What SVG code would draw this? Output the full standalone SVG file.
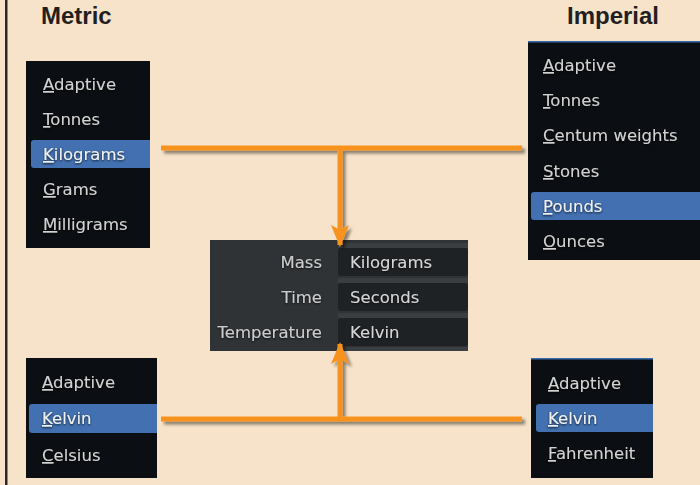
<svg xmlns="http://www.w3.org/2000/svg" width="700" height="485" viewBox="0 0 700 485">
  <defs>
    <filter id="sh" x="-10%" y="-10%" width="130%" height="130%">
      <feDropShadow dx="3" dy="3" stdDeviation="1.5" flood-color="#000" flood-opacity="0.45"/>
    </filter>
    <filter id="tsh" x="-5%" y="-20%" width="110%" height="150%">
      <feDropShadow dx="0" dy="1" stdDeviation="0.8" flood-color="#000" flood-opacity="0.8"/>
    </filter>
    <marker id="ah" viewBox="0 0 22 18" refX="20" refY="9" markerWidth="22" markerHeight="18" markerUnits="userSpaceOnUse" orient="auto">
      <path d="M0,0 L22,9 L0,18 L5,9 Z" fill="#f7931e"/>
    </marker>
  </defs>
  <style>
    .bg{fill:#f7e3c9}
    .title{font-family:"Liberation Sans",Arial,sans-serif;font-weight:bold;font-size:24px;fill:#231f20}
    .menu{fill:#0b0e12}
    .hl{fill:#4270b0}
    .it{font-family:"DejaVu Sans","Noto Sans",sans-serif;font-size:16.5px;fill:#d2d2d2;filter:url(#tsh)}
    .ith{font-family:"DejaVu Sans","Noto Sans",sans-serif;font-size:16.5px;fill:#f0f0f0;filter:url(#tsh)}
    .lab{font-family:"DejaVu Sans","Noto Sans",sans-serif;font-size:16.5px;fill:#cccccc;text-anchor:end;filter:url(#tsh)}
    .val{font-family:"DejaVu Sans","Noto Sans",sans-serif;font-size:16.5px;fill:#d6d6d6;filter:url(#tsh)}
    .conn{stroke:#f7931e;stroke-width:5;fill:none}
    .topline{fill:#3a6cad}
  </style>
  <rect class="bg" x="0" y="0" width="700" height="485"/>
  <rect x="5" y="0" width="2.5" height="485" fill="#2a2a2a"/>

  <text class="title" x="41" y="24">Metric</text>
  <text class="title" x="567" y="24">Imperial</text>

  <g id="metric-mass">
    <rect class="menu" x="26" y="61" width="124" height="187"/>
    <path class="hl" d="M34,140 H150 V168 H34 A3,3 0 0 1 31,165 V143 A3,3 0 0 1 34,140 Z"/>
    <text class="it" x="43" y="90"><tspan text-decoration="underline">A</tspan>daptive</text>
    <text class="it" x="43" y="125"><tspan text-decoration="underline">T</tspan>onnes</text>
    <text class="ith" x="43" y="160"><tspan text-decoration="underline">K</tspan>ilograms</text>
    <text class="it" x="43" y="195"><tspan text-decoration="underline">G</tspan>rams</text>
    <text class="it" x="43" y="230"><tspan text-decoration="underline">M</tspan>illigrams</text>
  </g>

  <g id="imperial-mass">
    <rect class="menu" x="528" y="41" width="172" height="219"/>
    <rect class="topline" x="528" y="41" width="172" height="1.5"/>
    <path class="hl" d="M534,192 H700 V220 H534 A3,3 0 0 1 531,217 V195 A3,3 0 0 1 534,192 Z"/>
    <text class="it" x="543" y="71"><tspan text-decoration="underline">A</tspan>daptive</text>
    <text class="it" x="543" y="106"><tspan text-decoration="underline">T</tspan>onnes</text>
    <text class="it" x="543" y="141"><tspan text-decoration="underline">C</tspan>entum weights</text>
    <text class="it" x="543" y="177"><tspan text-decoration="underline">S</tspan>tones</text>
    <text class="ith" x="543" y="212"><tspan text-decoration="underline">P</tspan>ounds</text>
    <text class="it" x="543" y="247"><tspan text-decoration="underline">O</tspan>unces</text>
  </g>

  <g id="units-panel">
    <rect x="210" y="240" width="258" height="111" fill="#2f3336"/>
    <rect x="338" y="243" width="130" height="5" fill="#3a3e41"/>
    <rect x="338" y="248" width="130" height="28" rx="3" fill="#1f2225"/>
    <rect x="338" y="278" width="130" height="5" fill="#3a3e41"/>
    <rect x="338" y="283" width="130" height="28" rx="3" fill="#1f2225"/>
    <rect x="338" y="313" width="130" height="5" fill="#3a3e41"/>
    <rect x="338" y="318" width="130" height="28" rx="3" fill="#1f2225"/>
    <rect x="338" y="347" width="130" height="4" fill="#3a3e41"/>
    <text class="lab" x="322" y="268">Mass</text>
    <text class="lab" x="322" y="303">Time</text>
    <text class="lab" x="322" y="338">Temperature</text>
    <text class="val" x="350" y="268">Kilograms</text>
    <text class="val" x="350" y="303">Seconds</text>
    <text class="val" x="350" y="338">Kelvin</text>
  </g>

  <g id="metric-temp">
    <rect class="menu" x="26" y="358" width="131" height="120"/>
    <path class="hl" d="M32,404 H157 V433 H32 A3,3 0 0 1 29,430 V407 A3,3 0 0 1 32,404 Z"/>
    <text class="it" x="42" y="388"><tspan text-decoration="underline">A</tspan>daptive</text>
    <text class="ith" x="42" y="424"><tspan text-decoration="underline">K</tspan>elvin</text>
    <text class="it" x="42" y="461"><tspan text-decoration="underline">C</tspan>elsius</text>
  </g>

  <g id="imperial-temp">
    <rect class="menu" x="531" y="358" width="122" height="120"/>
    <rect class="topline" x="531" y="358" width="122" height="1.5"/>
    <path class="hl" d="M539,404 H653 V432 H539 A3,3 0 0 1 536,429 V407 A3,3 0 0 1 539,404 Z"/>
    <text class="it" x="548" y="389"><tspan text-decoration="underline">A</tspan>daptive</text>
    <text class="ith" x="548" y="424"><tspan text-decoration="underline">K</tspan>elvin</text>
    <text class="it" x="548" y="459"><tspan text-decoration="underline">F</tspan>ahrenheit</text>
  </g>

  <g id="connectors" filter="url(#sh)">
    <path class="conn" d="M161,148 H522"/>
    <path class="conn" d="M340,148 V245" marker-end="url(#ah)"/>
    <path class="conn" d="M161,419 H522"/>
    <path class="conn" d="M340,419 V344" marker-end="url(#ah)"/>
  </g>
</svg>
